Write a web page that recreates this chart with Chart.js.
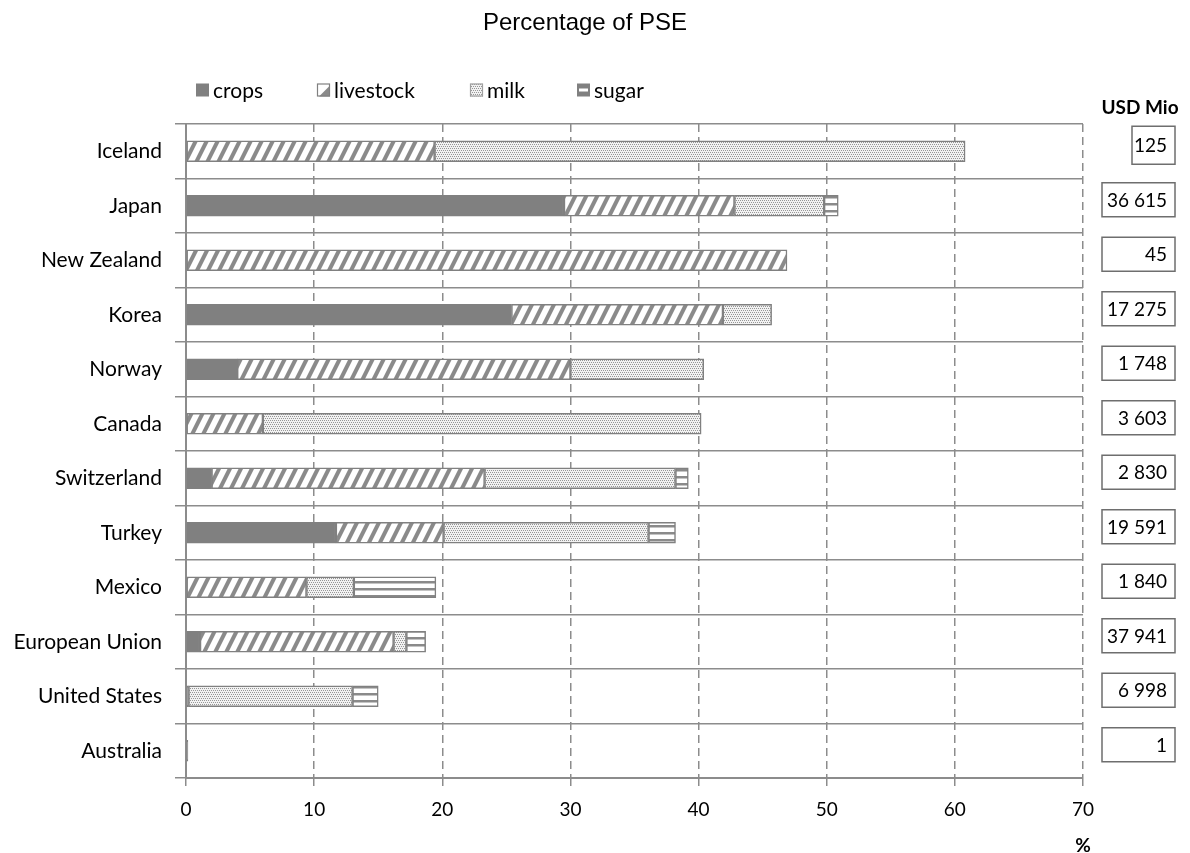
<!DOCTYPE html>
<html>
<head>
<meta charset="utf-8">
<title>Percentage of PSE</title>
<script src="https://cdn.jsdelivr.net/npm/chart.js@4"></script>
<style>
  html, body { margin: 0; padding: 0; background: #fff; }
  #wrap { width: 1190px; height: 853px; position: relative; }
</style>
</head>
<body>
<div id="wrap"><canvas id="chart" width="1190" height="853"></canvas></div>
<script>
// ---- data ----
const categories = ['Iceland', 'Japan', 'New Zealand', 'Korea', 'Norway', 'Canada', 'Switzerland', 'Turkey', 'Mexico', 'European Union', 'United States', 'Australia'];
const crops     = [0,    29.5, 0,    25.4, 4.0,  0,    2.0,  11.7, 0,   1.1,  0.2,  0.15];
const livestock = [19.4, 13.3, 46.9, 16.5, 26.0, 6.0,  21.3, 8.4,  9.4, 15.1, 0,    0];
const milk      = [41.4, 7.0,  0,    3.8,  10.4, 34.2, 14.9, 16.0, 3.7, 1.0,  12.8, 0];
const sugar     = [0,    1.1,  0,    0,    0,    0,    1.0,  2.1,  6.4, 1.5,  2.0,  0];
const usdMio    = ['125', '36 615', '45', '17 275', '1 748', '3 603', '2 830', '19 591', '1 840', '37 941', '6 998', '1'];
const seriesNames = ['crops', 'livestock', 'milk', 'sugar'];
const xTicks = [0, 10, 20, 30, 40, 50, 60, 70];
const titleText = 'Percentage of PSE';
const unitLabel = 'USD Mio';
const axisUnit = '%';

// ---- styles ----
const GRAY = '#808080';
const GRID = '#8c8c8c';
const LABEL_FONT = 'Lato, "Noto Sans", sans-serif';

const canvas = document.getElementById('chart');
const ctx = canvas.getContext('2d');

function makePattern(w, h, draw) {
  const c = document.createElement('canvas');
  c.width = w; c.height = h;
  const g = c.getContext('2d');
  draw(g, w, h);
  return ctx.createPattern(c, 'repeat');
}
const livestockFill = makePattern(11, 22, (g, w, h) => {
  g.fillStyle = '#fff'; g.fillRect(0, 0, w, h);
  g.fillStyle = '#8a8a8a';
  for (const k of [-11, 0, 11]) {
    g.beginPath();
    g.moveTo(k, h); g.lineTo(k + 4.5, h); g.lineTo(k + 15.5, 0); g.lineTo(k + 11, 0);
    g.closePath(); g.fill();
  }
});
const milkFill = makePattern(4, 4, (g, w, h) => {
  g.fillStyle = '#f2f2f2'; g.fillRect(0, 0, w, h);
  g.fillStyle = '#969696';
  g.fillRect(0, 0, 1, 1); g.fillRect(2, 0, 1, 1); g.fillRect(1, 2, 1, 1); g.fillRect(3, 2, 1, 1);
});
const sugarFill = makePattern(4, 7, (g, w, h) => {
  g.fillStyle = '#fff'; g.fillRect(0, 0, w, h);
  g.fillStyle = '#8a8a8a'; g.fillRect(0, 0, w, 2.5);
});
const fills = [GRAY, livestockFill, milkFill, sugarFill];
const seriesData = [crops, livestock, milk, sugar];

const datasets = seriesNames.map((name, i) => ({
  label: name,
  data: seriesData[i].map(v => (v === 0 ? null : v)),
  backgroundColor: fills[i],
  borderColor: GRAY,
  borderWidth: 1.5,
  borderSkipped: false,
  barThickness: 21
}));

// ---- extra drawing: title, legend, value boxes, unit labels ----
const decorPlugin = {
  id: 'decor',
  afterDraw(chart) {
    const c = chart.ctx;
    const yScale = chart.scales.y;
    const xScale = chart.scales.x;
    c.save();
    // title
    c.fillStyle = '#000';
    c.font = '24px "Liberation Sans", Arial, sans-serif';
    c.textAlign = 'center';
    c.textBaseline = 'alphabetic';
    c.fillText(titleText, 585, 30);

    // legend
    const legendX = [196, 317, 470, 577];
    const ly = 90;
    c.font = '21px ' + LABEL_FONT;
    c.textAlign = 'left';
    c.textBaseline = 'middle';
    seriesNames.forEach((name, i) => {
      const x = legendX[i];
      const s = 13;
      const top = ly - s / 2;
      if (i === 0) {
        c.fillStyle = GRAY; c.fillRect(x, top, s, s);
      } else if (i === 1) {
        c.fillStyle = '#fff'; c.fillRect(x, top, s, s);
        c.fillStyle = '#8a8a8a';
        c.beginPath(); c.moveTo(x + s, top + 2); c.lineTo(x + s, top + s); c.lineTo(x + 2, top + s); c.closePath(); c.fill();
        c.strokeStyle = GRAY; c.lineWidth = 1.2; c.strokeRect(x + 0.5, top + 0.5, s - 1, s - 1);
      } else if (i === 2) {
        c.fillStyle = milkFill; c.fillRect(x, top, s, s);
        c.strokeStyle = '#a0a0a0'; c.lineWidth = 1.2; c.strokeRect(x + 0.5, top + 0.5, s - 1, s - 1);
      } else {
        c.fillStyle = GRAY; c.fillRect(x, top, s, s);
        c.fillStyle = '#fff'; c.fillRect(x + 2, top + 5, s - 4, 3);
      }
      c.fillStyle = '#000';
      c.fillText(name, x + s + 4, ly + 1);
    });

    // value boxes
    c.font = 'bold 19px ' + LABEL_FONT;
    c.textAlign = 'center';
    c.fillText(unitLabel, 1140, 108);
    c.font = '19px ' + LABEL_FONT;
    c.textAlign = 'right';
    usdMio.forEach((txt, i) => {
      const cy = yScale.getPixelForValue(i) - 6;
      const w = i === 0 ? 43 : 73;
      const h = i === 0 ? 38 : 34;
      c.strokeStyle = '#6e6e6e';
      c.lineWidth = 1.5;
      c.strokeRect(1175 - w, cy - h / 2, w, h);
      c.fillStyle = '#000';
      c.fillText(txt, 1167, cy + 1);
    });

    // axis unit
    c.font = 'bold 19px ' + LABEL_FONT;
    c.textAlign = 'center';
    c.fillText(axisUnit, xScale.getPixelForValue(xTicks[xTicks.length - 1]), 846);
    c.restore();
  }
};

new Chart(canvas, {
  type: 'bar',
  data: { labels: categories, datasets },
  plugins: [decorPlugin],
  options: {
    indexAxis: 'y',
    responsive: false,
    animation: false,
    events: [],
    layout: { padding: { top: 124, right: 107, left: 0, bottom: 0 } },
    plugins: {
      legend: { display: false },
      title: { display: false },
      tooltip: { enabled: false }
    },
    scales: {
      x: {
        stacked: true,
        min: xTicks[0],
        max: xTicks[xTicks.length - 1],
        afterBuildTicks: s => { s.ticks = xTicks.map(v => ({ value: v })); },
        afterFit: s => { s.height = 75; },
        ticks: { color: '#000', font: { family: LABEL_FONT, size: 19 }, padding: 12, maxRotation: 0 },
        grid: { color: GRID, lineWidth: 1.5, tickLength: 8, tickColor: GRID, tickWidth: 1.5, tickBorderDash: [] },
        border: { display: true, color: GRID, width: 2, dash: [8, 5] }
      },
      y: {
        stacked: true,
        afterFit: s => { s.width = 186; },
        ticks: { color: '#000', font: { family: LABEL_FONT, size: 21 }, padding: 13, autoSkip: false },
        grid: { offset: true, color: GRID, lineWidth: 1.5, tickLength: 11, tickColor: GRID, tickWidth: 1.5 },
        border: { display: true, color: GRID, width: 2 }
      }
    }
  }
});
</script>
</body>
</html>
